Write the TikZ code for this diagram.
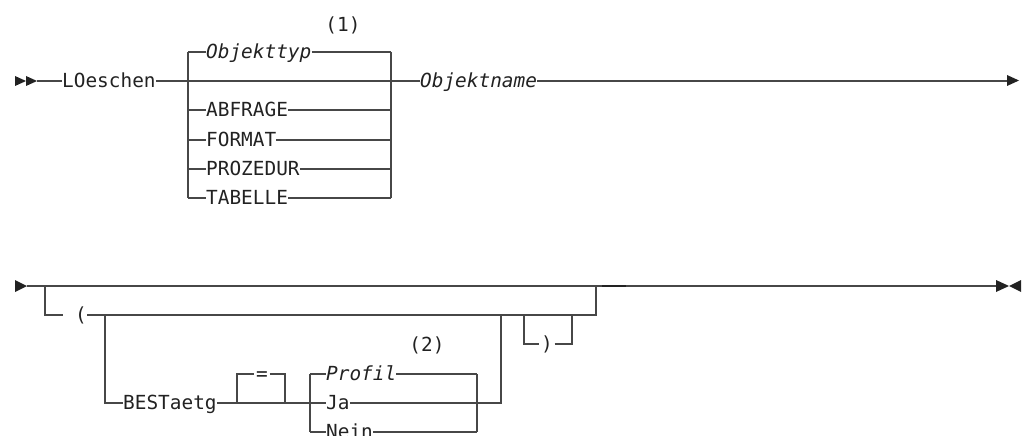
\documentclass[tikz,border=0pt]{standalone}
\usepackage{fontspec}
\newfontfamily\railfont{DejaVu Sans Mono}
\definecolor{railline}{HTML}{474747}
\definecolor{railtext}{HTML}{222222}
\tikzset{
  rail/.style={draw=railline, line width=1.4pt},
  kw/.style={anchor=base west, inner sep=0pt, yshift=-6.8pt, text=railtext,
    font=\railfont\fontsize{19.4}{22}\selectfont},
  var/.style={kw, font=\railfont\itshape\fontsize{19.4}{22}\selectfont},
  sym/.style={kw, anchor=base, inner xsep=1.5pt},
  tip/.style={fill=railtext}
}
\begin{document}
\begin{tikzpicture}[x=1pt,y=-1pt]
	\useasboundingbox (0,0) rectangle (1023,436);
	
	% Zeile 1: LOeschen ... Objektname
	\coordinate (r1) at (0,81);
	\fill[tip] (15,76) -- (26,81) -- (15,86) -- cycle;
	\fill[tip] (26,76) -- (37,81) -- (26,86) -- cycle;
	\coordinate (s1) at (37,81);
	\node[kw] (lo) at (62,81) {LOeschen};
	\coordinate (b1l) at (188,81);
	\coordinate (b1r) at (391,81);
	\draw[rail] (s1) -- (lo.west |- r1);
	\draw[rail] (lo.east |- r1) -- (b1l) -- (b1r);
	
	% Auswahl Objekttyp
	\foreach \y/\st/\lab in {52/var/Objekttyp, 110/kw/ABFRAGE, 140/kw/FORMAT,
		169/kw/PROZEDUR, 198/kw/TABELLE}{
		\node[\st] (o\y) at (206,\y) {\lab};
		\draw[rail] (b1l |- 0,\y) -- (o\y.west |- 0,\y);
		\draw[rail] (o\y.east |- 0,\y) -- (b1r |- 0,\y);
	}
	\draw[rail] (b1l |- 0,52) -- (b1l |- 0,198);
	\draw[rail] (b1r |- 0,52) -- (b1r |- 0,198);
	\node[sym] (fn1) at (343,25) {(1)};
	
	\node[var] (on) at (420,81) {Objektname};
	\coordinate (e1) at (1007,81);
	\draw[rail] (b1r) -- (on.west |- r1);
	\draw[rail] (on.east |- r1) -- (e1);
	\fill[tip] (1007,75) -- (1019,80.5) -- (1007,86) -- cycle;
	
	% Zeile 2: optionale Klammer
	\fill[tip] (15,280) -- (27,286) -- (15,292) -- cycle;
	\coordinate (s2) at (27,286);
	\coordinate (j2) at (45,286);
	\coordinate (k2) at (596,286);
	\coordinate (e2) at (996,286);
	\draw[rail] (s2) -- (k2) -- (e2);
	\draw[line width=2.2pt, railtext] (602,286) -- (626,286);
	\fill[tip] (996,280) -- (1009,286) -- (996,292) -- cycle;
	\fill[tip] (1021,280) -- (1009,286) -- (1021,292) -- cycle;
	
	\coordinate (i2) at (45,315);
	\coordinate (pl) at (63,315);
	\node[kw] (po) at (75,315) {(};
	\draw[rail] (j2) -- (i2) -- (pl);
	\draw[rail] (po.east |- i2) -- (k2 |- i2) -- (k2);
	
	% ) optional
	\coordinate (c1) at (524,315);
	\coordinate (c2) at (572,315);
	\node[sym] (pc) at (547,344) {)};
	\draw[rail] (c1) -- (c1 |- 0,344) -- (pc.west |- 0,344);
	\draw[rail] (pc.east |- 0,344) -- (c2 |- 0,344) -- (c2);
	
	% BESTaetg
	\coordinate (v1) at (105,315);
	\coordinate (v1b) at (105,403);
	\coordinate (v2) at (501,315);
	\coordinate (v2b) at (501,403);
	\node[kw] (be) at (123,403) {BESTaetg};
	\draw[rail] (v1) -- (v1b) -- (be.west |- v1b);
	
	% = optional
	\coordinate (q1) at (237,403);
	\coordinate (q2) at (285,403);
	\node[sym] (eq) at (262,374) {=};
	\draw[rail] (q1) -- (q1 |- 0,374) -- (eq.west |- 0,374);
	\draw[rail] (eq.east |- 0,374) -- (q2 |- 0,374) -- (q2);
	
	% Profil / Ja / Nein
	\coordinate (pb1) at (310,403);
	\coordinate (pb2) at (477,403);
	\draw[rail] (be.east |- v1b) -- (q1) -- (q2) -- (pb1);
	\foreach \y/\st/\lab in {374/var/Profil, 403/kw/Ja, 432/kw/Nein}{
		\node[\st] (w\y) at (326,\y) {\lab};
		\draw[rail] (pb1 |- 0,\y) -- (w\y.west |- 0,\y);
		\draw[rail] (w\y.east |- 0,\y) -- (pb2 |- 0,\y);
	}
	\draw[rail] (pb1 |- 0,374) -- (pb1 |- 0,432);
	\draw[rail] (pb2 |- 0,374) -- (pb2 |- 0,432);
	\draw[rail] (pb2) -- (v2b) -- (v2);
	\node[sym] (fn2) at (427,345) {(2)};
\end{tikzpicture}
\end{document}
